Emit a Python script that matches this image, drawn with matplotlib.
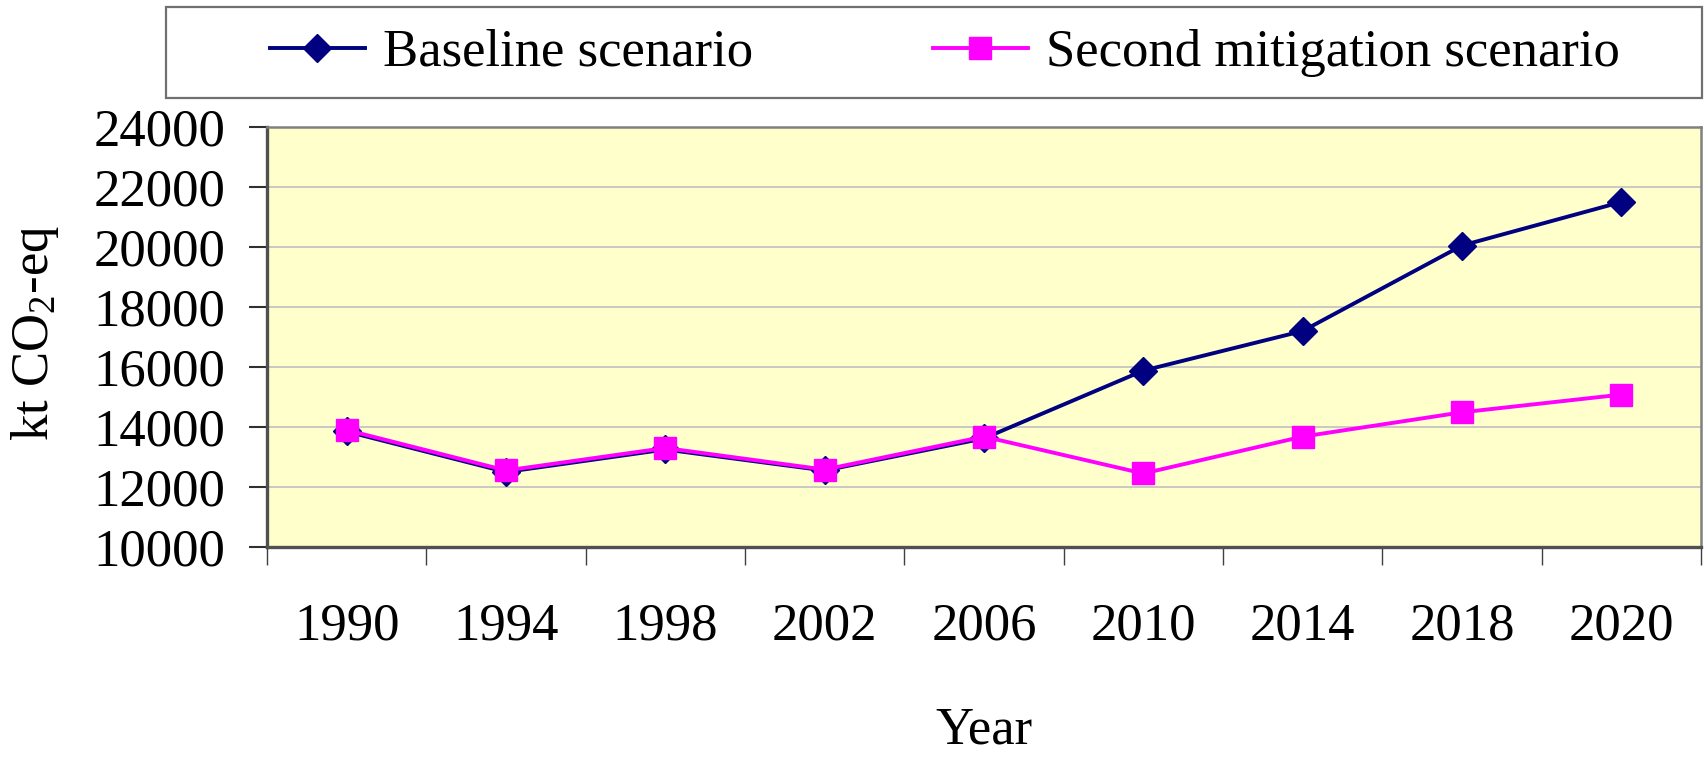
import matplotlib
matplotlib.use("Agg")
import matplotlib.pyplot as plt
from matplotlib.patches import Rectangle

years = ["1990", "1994", "1998", "2002", "2006", "2010", "2014", "2018", "2020"]
baseline = [13850, 12500, 13250, 12550, 13620, 15880, 17200, 20050, 21500]
mitigation = [13900, 12550, 13300, 12580, 13680, 12450, 13680, 14490, 15080]
yticks = [10000, 12000, 14000, 16000, 18000, 20000, 22000, 24000]

plt.rcParams['font.family'] = ['Liberation Serif', 'DejaVu Serif']
plt.rcParams['mathtext.fontset'] = 'custom'
plt.rcParams['mathtext.rm'] = 'Liberation Serif'
plt.rcParams['mathtext.it'] = 'Liberation Serif:italic'

FS = 38
W, H = 1704, 758
fig = plt.figure(figsize=(W / 100, H / 100), dpi=100)
L, R, T, B = 267, 1701, 127, 547
ax = fig.add_axes([L / W, 1 - B / H, (R - L) / W, (B - T) / H])
ax.set_facecolor('#FFFFCC')

x = list(range(len(years)))
ax.plot(x, baseline, color='#000080', lw=2.8, marker='D', ms=14,
        label='Baseline scenario', zorder=3)
ax.plot(x, mitigation, color='#FF00FF', lw=2.8, marker='s', ms=16.5,
        label='Second mitigation scenario', zorder=4)

ax.set_xlim(-0.5, len(years) - 0.5)
ax.set_ylim(10000, 24000)
ax.set_yticks(yticks)
ax.set_yticklabels([str(v) for v in yticks], fontsize=FS)
ax.set_xticks(x)
ax.set_xticklabels(years, fontsize=FS)
ax.set_xticks([i - 0.5 for i in range(len(years) + 1)], minor=True)
ax.tick_params(axis='x', which='major', length=0, pad=40)
ax.tick_params(axis='x', which='minor', length=13, width=1, color='#404040', direction='out')
ax.tick_params(axis='y', which='major', length=13, width=1.5, color='#303030', pad=17, direction='out')

ax.grid(axis='y', color='#C0C0C0', lw=1.2)
ax.set_axisbelow(True)
for s in ['left', 'bottom']:
    ax.spines[s].set_color('#505050')
    ax.spines[s].set_linewidth(2.4)
for s in ['top', 'right']:
    ax.spines[s].set_color('#808080')
    ax.spines[s].set_linewidth(1.8)

ax.set_ylabel(r'kt CO$_2$-eq', fontsize=FS)
ax.yaxis.set_label_coords((35 - L) / (R - L), 0.51)
ax.yaxis.label.set_va('center')
ax.set_xlabel('Year', fontsize=FS)
ax.xaxis.set_label_coords(0.5, (B - 731) / (B - T))
ax.xaxis.label.set_va('center')

# legend box
fig.patches.append(Rectangle((166 / W, 1 - 98 / H), (1702 - 166) / W, (98 - 7) / H,
                             transform=fig.transFigure, facecolor='white',
                             edgecolor='#707070', lw=1.6, zorder=0))
leg = fig.legend(loc='center', bbox_to_anchor=(945 / W, 1 - 53 / H), ncol=2,
                 frameon=False, fontsize=FS, handlelength=1.8, handletextpad=0.35,
                 columnspacing=3.4, borderpad=0)

fig.savefig('out.png', dpi=100)
